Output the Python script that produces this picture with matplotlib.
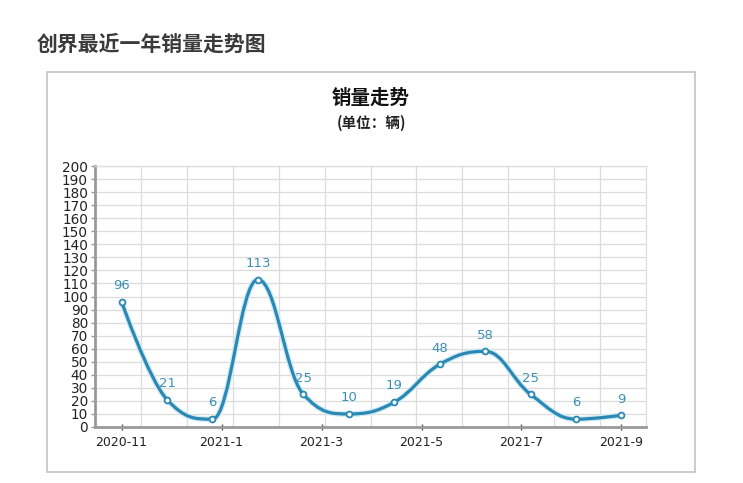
import matplotlib
matplotlib.use('Agg')
import matplotlib.pyplot as plt
import numpy as np
from matplotlib.path import Path
from matplotlib.patches import PathPatch, Rectangle

plt.rcParams['font.family'] = ['DejaVu Sans', 'Noto Sans CJK SC']

# data
sales = [96, 21, 6, 113, 25, 10, 19, 48, 58, 25, 6, 9]
tick_labels = ['2020-11', '2021-1', '2021-3', '2021-5', '2021-7', '2021-9']

line_color = '#2a88b3'
label_color = '#3b8fb6'


def spline_path(xs, ys, smoothing=1.5):
    # highcharts-like spline: cubic bezier segments between points
    n = len(xs)
    denom = smoothing + 1
    left = [(x, y) for x, y in zip(xs, ys)]
    right = [(x, y) for x, y in zip(xs, ys)]
    for i in range(1, n - 1):
        px, py = xs[i], ys[i]
        lx, ly = xs[i - 1], ys[i - 1]
        nx, ny = xs[i + 1], ys[i + 1]
        lcx = (smoothing * px + lx) / denom
        lcy = (smoothing * py + ly) / denom
        rcx = (smoothing * px + nx) / denom
        rcy = (smoothing * py + ny) / denom
        corr = ((rcy - lcy) * (rcx - px)) / (rcx - lcx) + py - rcy
        lcy += corr
        rcy += corr
        if lcy > ly and lcy > py:
            lcy = max(ly, py)
            rcy = 2 * py - lcy
        elif lcy < ly and lcy < py:
            lcy = min(ly, py)
            rcy = 2 * py - lcy
        if rcy > ny and rcy > py:
            rcy = max(ny, py)
            lcy = 2 * py - rcy
        elif rcy < ny and rcy < py:
            rcy = min(ny, py)
            lcy = 2 * py - rcy
        left[i] = (lcx, lcy)
        right[i] = (rcx, rcy)
    verts = [(xs[0], ys[0])]
    codes = [Path.MOVETO]
    for i in range(1, n):
        verts += [right[i - 1], left[i], (xs[i], ys[i])]
        codes += [Path.CURVE4] * 3
    return Path(verts, codes)


fig = plt.figure(figsize=(7.43, 4.83), dpi=100)
W, H = 743, 483

# page heading
fig.text(37 / W, 1 - 44 / H, '创界最近一年销量走势图', fontsize=15, fontweight='bold',
         color='#3a3a3a', va='center', ha='left', family=['Noto Sans CJK SC'])

# chart frame
fig.patches.append(Rectangle((47 / W, 1 - 472 / H), 648 / W, 400 / H,
                             transform=fig.transFigure, fill=False,
                             edgecolor='#c4c4c4', linewidth=1.2))

fig.text(371 / W, 1 - 98 / H, '销量走势', fontsize=14, fontweight='bold',
         color='#111111', ha='center', va='center', family=['Noto Sans CJK SC'])
fig.text(371 / W, 1 - 123 / H, '(单位：辆)', fontsize=10.5, fontweight='bold',
         color='#222222', ha='center', va='center', family=['Noto Sans CJK SC'])

ax = fig.add_axes([95 / W, 1 - 427 / H, 551 / W, 261 / H])
x = np.arange(len(sales))
x0, x1 = -0.585, 11.54
ax.set_xlim(x0, x1)
ax.set_ylim(0, 200)

# grid
for k in range(1, 12):
    ax.axvline(x0 + k * (x1 - x0) / 12, color='#dcdcdc', lw=0.9, zorder=0)
for yv in range(10, 201, 10):
    ax.axhline(yv, color='#dcdcdc', lw=0.9, zorder=0)

path = spline_path(list(x), list(sales))
ax.add_patch(PathPatch(path, fill=False, edgecolor='#d3ecf6', lw=4.2, zorder=2))
ax.add_patch(PathPatch(path, fill=False, edgecolor=line_color, lw=2.3, zorder=3))
ax.plot(x, sales, 'o', ms=4.2, mfc='white', mec=line_color, mew=1.3, zorder=4)

for xi, v in zip(x, sales):
    ax.annotate(str(v), (xi, v), xytext=(0, 7), textcoords='offset points',
                ha='center', va='bottom', fontsize=9.5, color=label_color)

ax.set_yticks(np.arange(0, 201, 10))
ax.set_xticks(np.linspace(0, 11, 6))
ax.set_xticklabels(tick_labels)
ax.tick_params(axis='y', labelsize=9.8, length=3, width=1, color='#999999',
               labelcolor='#222222', pad=2)
ax.tick_params(axis='x', labelsize=9, length=5, width=1, color='#555555',
               labelcolor='#222222', direction='inout', pad=4)

for s in ['top', 'right']:
    ax.spines[s].set_color('#dcdcdc')
    ax.spines[s].set_linewidth(0.9)
for s in ['left', 'bottom']:
    ax.spines[s].set_color('#999999')
    ax.spines[s].set_linewidth(2)

fig.savefig('out.png', dpi=100)
